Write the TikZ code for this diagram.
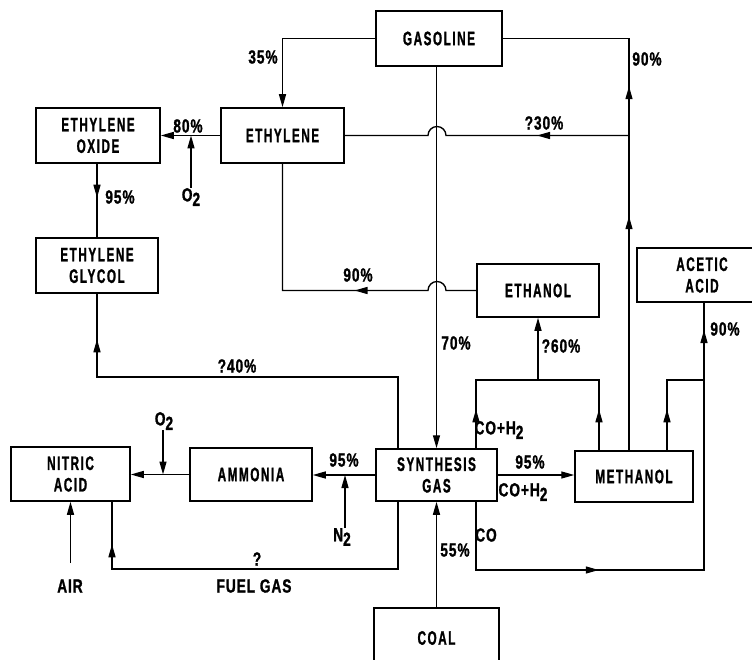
\documentclass[tikz,border=0pt]{standalone}
\usepackage{fontspec}
\setmainfont{Liberation Sans}[FakeStretch=0.6,LetterSpace=8,FakeBold=1.2]
\newfontfamily\lblfont{Liberation Sans}[FakeStretch=0.72,LetterSpace=5,FakeBold=1.2]
\usetikzlibrary{arrows.meta,decorations.markings}
\newcommand\lowsub[1]{\raisebox{-0.45ex}{#1}}
\begin{document}
\begin{tikzpicture}[x=1pt,y=-1pt,
 box/.style={draw, line width=1.5pt, inner sep=0pt, align=center, font=\fontsize{19.5}{21.5}\selectfont\bfseries},
 lbl/.style={inner sep=0pt, font=\lblfont\fontsize{19}{20}\selectfont\bfseries},
 ln/.style={line width=1.35pt},
 arr/.style={ln, -{Triangle[length=13pt,width=7pt]}},
 midarr/.style={postaction={decorate, decoration={markings, mark=at position #1 with {\arrow{Triangle[length=13pt,width=7pt]}}}}}]
\useasboundingbox (0,0) rectangle (752,660);
\clip (0,0) rectangle (752,660);
% boxes
\node[box, minimum width=126pt, minimum height=55pt] (gas) at (439,38.5) {GASOLINE};
\node[box, minimum width=123pt, minimum height=55pt] (eth) at (282.5,135.5) {ETHYLENE};
\node[box, minimum width=124pt, minimum height=55pt] (eo) at (98,135.5) {ETHYLENE\\OXIDE};
\node[box, minimum width=122pt, minimum height=55pt] (eg) at (97,265.5) {ETHYLENE\\GLYCOL};
\node[box, minimum width=122pt, minimum height=53pt] (etoh) at (538,290.5) {ETHANOL};
\node[box, minimum width=130pt, minimum height=54pt] (acet) at (702,275) {ACETIC\\ACID};
\node[box, minimum width=121pt, minimum height=52pt] (syn) at (436.5,475) {SYNTHESIS\\GAS};
\node[box, minimum width=118pt, minimum height=51pt] (meth) at (634,476.5) {METHANOL};
\node[box, minimum width=119pt, minimum height=54pt] (nit) at (70.5,474) {NITRIC\\ACID};
\node[box, minimum width=122pt, minimum height=53pt] (amm) at (251,474.5) {AMMONIA};
\node[box, minimum width=125pt, minimum height=60pt] (coal) at (436.5,638) {COAL};
% free labels with arrows
\node[lbl] (o2a) at (191,197) {O\lowsub{2}};
\node[lbl] (o2b) at (164,421) {O\lowsub{2}};
\node[lbl] (n2) at (342,537) {N\lowsub{2}};
\node[lbl] (air) at (70,586) {AIR};
\coordinate (j1) at (538,380);
\coordinate (j2) at (704,380);
% connectors
\draw[arr] (gas.west) -| (eth.north);
\draw[arr] (syn.north |- gas.south) -- (syn.north);
\draw[ln, midarr=234pt, midarr=364pt] (629,0 |- meth.north) |- (gas.east);
\draw[ln, midarr=92pt] (629,0 |- eth.east) -- (446,0 |- eth.east) arc[start angle=0,end angle=-180,radius=9] -- (eth.east);
\draw[ln, midarr=132pt] (etoh.west) -- (446,0 |- etoh.west) arc[start angle=0,end angle=-180,radius=9] -- (eth.south |- etoh.west) -- (eth.south);
\draw[arr] (eth.west) -- (eo.east);
\draw[arr] (o2a.north) -- (o2a.north |- eth.west);
\draw[ln, midarr=34pt] (eg.north |- eo.south) -- (eg.north);
\draw[ln, midarr=410pt] (398,0 |- syn.north) |- (eg.south |- 0,377) -- (eg.south);
\draw[ln, midarr=39pt] (476,0 |- syn.north) |- (j1);
\draw[ln, midarr=41pt] (599,0 |- meth.north) |- (j1);
\draw[arr] (j1) -- (etoh.south);
\draw[arr] (syn.east) -- (syn.east -| meth.west);
\draw[ln, midarr=41pt] (667,0 |- meth.north) |- (j2);
\draw[ln, midarr=191pt] (476,0 |- syn.south) |- (j2 |- 0,570) -- (j2);
\draw[ln, midarr=50pt] (j2) -- (j2 |- acet.south);
\draw[arr] (syn.west) -- (syn.west -| amm.east);
\draw[arr] (n2.north -| 345,0) -- (345,0 |- syn.west);
\draw[arr] (amm.west) -- (amm.west -| nit.east);
\draw[arr] (o2b.south -| 163,0) -- (163,0 |- amm.west);
\draw[arr] (nit.south |- 0,563) -- (nit.south);
\draw[ln, midarr=378pt] (398,0 |- syn.south) |- (112,569) -- (112,0 |- nit.south);
\draw[arr] (coal.north) -- (syn.south);
% percentage labels
\node[lbl] at (263,57) {35\%};
\node[lbl] at (188,126) {80\%};
\node[lbl] at (120,197) {95\%};
\node[lbl] at (647,59) {90\%};
\node[lbl] at (544,123) {?30\%};
\node[lbl] at (358,275) {90\%};
\node[lbl] at (237,366) {?40\%};
\node[lbl] at (456,343) {70\%};
\node[lbl] at (561,346) {?60\%};
\node[lbl] at (725,329) {90\%};
\node[lbl] at (499,430) {CO+H\lowsub{2}};
\node[lbl] at (344,460) {95\%};
\node[lbl] at (257,559) {?};
\node[lbl] at (254,586) {FUEL GAS};
\node[lbl] at (530,462) {95\%};
\node[lbl] at (523,492) {CO+H\lowsub{2}};
\node[lbl] at (486,535) {CO};
\node[lbl] at (455,550) {55\%};
\end{tikzpicture}
\end{document}
